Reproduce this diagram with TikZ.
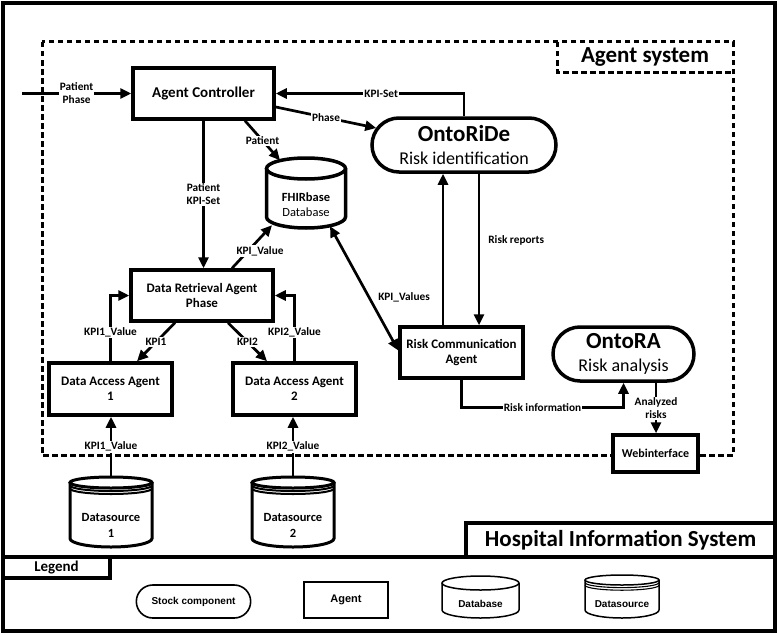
\documentclass[tikz,border=0pt]{standalone}
\usepackage{fontspec}
\setmainfont{Carlito}
\newfontfamily\arialfont{Liberation Sans}
\usetikzlibrary{arrows.meta,shapes.misc}
\newcommand\drawcyl[7]{%
  \draw[#7] (#1,#3+#5) -- (#1,#4-#6)
    arc[start angle=180,end angle=0,x radius={(#2-#1)/2},y radius=#6]
    -- (#2,#3+#5);
  \draw[#7] ({(#1+#2)/2},#3+#5) ellipse[x radius={(#2-#1)/2},y radius=#5];}
\newcommand\dslines[6]{%
  \draw[#6] (#1,#3+#5) arc[start angle=180,end angle=0,x radius={(#2-#1)/2},y radius=#4];
  \draw[#6] (#1,#3+2*#5) arc[start angle=180,end angle=0,x radius={(#2-#1)/2},y radius=#4];}
\tikzset{
  box/.style={draw, line width=3.5pt, fill=white, align=center, inner sep=2pt,
    font=\fontsize{13}{15.5}\selectfont\bfseries},
  pill/.style={rounded rectangle, draw, line width=3.5pt, fill=white, align=center, inner sep=0pt,
    font=\fontsize{18}{23}\selectfont},
  conn/.style={line width=2.7pt},
  arr/.style={-{Triangle[length=11pt,width=10pt]}},
  barr/.style={{Triangle[length=11pt,width=10pt]}-{Triangle[length=11pt,width=10pt]}},
  lab/.style={fill=white, inner sep=1pt, align=center, font=\fontsize{11.3}{13}\selectfont\bfseries},
  asdash/.style={line width=3pt, dash pattern=on 5.5pt off 3.5pt},
  frame/.style={line width=3.2pt},
  big/.style={font=\fontsize{23}{26}\selectfont\bfseries},
  legtxt/.style={font=\arialfont\fontsize{10}{12}\selectfont\bfseries},
}
\begin{document}
\begin{tikzpicture}[x=1pt,y=-1pt]
\useasboundingbox (0,0) rectangle (778,634);
% outer frames
\draw[frame] (3,3) rectangle (775,631);
\draw[frame] (3,557) -- (775,557);
\draw[frame] (466,557) -- (466,523) -- (775,523);
\node[big] (his) at (620.5,540) {Hospital Information System};
\draw[frame] (3,578) -- (110,578) -- (110,557);
\node[font=\fontsize{15}{17}\selectfont\bfseries] (leg) at (56.5,567.5) {Legend};
% agent system
\draw[asdash] (42,42) rectangle (733,455);
\draw[asdash] (557,42) -- (557,72) -- (733,72);
\node[big] (agsys) at (645,57) {Agent system};
% nodes
\node[box, minimum width=141pt, minimum height=51pt, font=\fontsize{15}{17}\selectfont\bfseries] (ac) at (203.5,93.5) {Agent Controller};
\node[pill, minimum width=184pt, minimum height=54pt] (onto) at (464,145)
  {{\fontsize{23}{24}\selectfont\bfseries OntoRiDe}\\Risk identification};
\node[pill, minimum width=141pt, minimum height=54pt] (ontora) at (623.5,354)
  {{\fontsize{23}{24}\selectfont\bfseries OntoRA}\\Risk analysis};
\node[box, minimum width=142pt, minimum height=51pt] (dra) at (202,295.5) {Data Retrieval Agent\\Phase};
\node[box, minimum width=123pt, minimum height=52pt] (daa1) at (110.5,389) {Data Access Agent\\1};
\node[box, minimum width=123pt, minimum height=52pt] (daa2) at (294.5,389) {Data Access Agent\\2};
\node[box, minimum width=123pt, minimum height=51pt] (rca) at (461.5,352.5) {Risk Communication\\Agent};
\node[box, minimum width=85pt, minimum height=37pt, font=\fontsize{12}{14}\selectfont\bfseries] (web) at (655.5,453.5) {Webinterface};
% FHIRbase cylinder
\drawcyl{266.5}{345.5}{158}{228}{10.5}{11}{line width=3.5pt}
\node[minimum width=79pt, minimum height=70pt, inner sep=0pt] (fhir) at (306,193) {};
\node[align=center, font=\fontsize{12.5}{15}\selectfont] (fhirtxt) at (306,204.5) {\textbf{FHIRbase}\\Database};
% Datasources
\drawcyl{70}{152}{477}{547}{5.5}{8.5}{line width=3pt}
\dslines{70}{152}{482.5}{5.5}{3}{line width=2pt}
\node[minimum width=82pt, minimum height=70pt, inner sep=0pt] (ds1) at (111,512) {};
\node[align=center, font=\fontsize{12.5}{16}\selectfont\bfseries] (ds1txt) at (111,525) {Datasource\\1};
\drawcyl{252}{334}{477}{547}{5.5}{8.5}{line width=3pt}
\dslines{252}{334}{482.5}{5.5}{3}{line width=2pt}
\node[minimum width=82pt, minimum height=70pt, inner sep=0pt] (ds2) at (293,512) {};
\node[align=center, font=\fontsize{12.5}{16}\selectfont\bfseries] (ds2txt) at (293,525) {Datasource\\2};
% connectors
\coordinate (pin) at (22,93.5);
\draw[conn,arr] (pin) -- node[lab]{Patient\\Phase} (ac);
\draw[conn,arr] (onto.north) |- node[lab,pos=0.72]{KPI-Set} (ac.east);
\draw[conn,arr] ([yshift=-13.5pt]ac.east) -- node[lab]{Phase} ([xshift=6pt,yshift=17pt]onto.west);
\draw[conn,arr] ([xshift=41.5pt]ac.south) -- node[lab]{Patient} ([xshift=-26pt,yshift=-2.5pt]fhir.north);
\draw[conn,arr] (ac.south) -- node[lab]{Patient\\KPI-Set} (ac.south |- dra.north);
\draw[conn,arr] ([xshift=30pt]dra.north) -- node[lab,pos=0.4,xshift=12pt]{KPI\_Value} ([xshift=-34pt,yshift=3pt]fhir.south);
\draw[conn,barr] ([xshift=24pt,yshift=2pt]fhir.south) -- node[lab,pos=0.57,right=7pt,fill=none]{KPI\_Values} ([yshift=2pt]rca.west);
\draw[conn,arr] ([xshift=-18.5pt]rca.north) -- ([xshift=-18.5pt]rca.north |- onto.south);
\draw[conn,arr] ([xshift=15pt]onto.south) -- node[lab,pos=0.44,right=7pt,fill=none]{Risk reports} ([xshift=15pt]onto.south |- rca.north);
\draw[conn,arr] (rca.south) -- ++(0,28) -| node[lab,pos=0.25]{Risk information} (ontora.south);
\draw[conn,arr] ([xshift=32.5pt]ontora.south) -- node[lab]{Analyzed\\risks} ([xshift=32.5pt]ontora.south |- web.north);
\draw[conn,arr] ([xshift=-27pt]dra.south) -- node[lab]{KPI1} ([xshift=26.5pt]daa1.north);
\draw[conn,arr] ([xshift=26pt]dra.south) -- node[lab]{KPI2} ([xshift=-27.5pt]daa2.north);
\draw[conn,arr] (daa1.north) |- node[lab,pos=0.22]{KPI1\_Value} (dra.west);
\draw[conn,arr] (daa2.north) |- node[lab,pos=0.22]{KPI2\_Value} (dra.east);
\draw[conn,arr] (ds1.north) -- node[lab]{KPI1\_Value} (ds1.north |- daa1.south);
\draw[conn,arr] (ds2.north) -- node[lab]{KPI2\_Value} (ds2.north |- daa2.south);
% legend items
\node[rounded rectangle, draw, line width=1.6pt, minimum width=121pt, minimum height=33pt, legtxt] (lstock) at (193.5,601.5) {Stock component};
\node[draw, line width=1.8pt, minimum width=84pt, minimum height=36pt, font=\arialfont\fontsize{11}{13}\selectfont\bfseries] (lagent) at (346,600) {Agent};
\drawcyl{442}{519}{576}{618}{7}{8}{line width=1.5pt}
\node[legtxt] (ldb) at (480.5,604) {Database};
\drawcyl{585}{659}{575}{618}{5}{8}{line width=1.5pt}
\dslines{585}{659}{580}{5}{2.6}{line width=1.1pt}
\node[legtxt] (lds) at (622,604) {Datasource};
\end{tikzpicture}
\end{document}
